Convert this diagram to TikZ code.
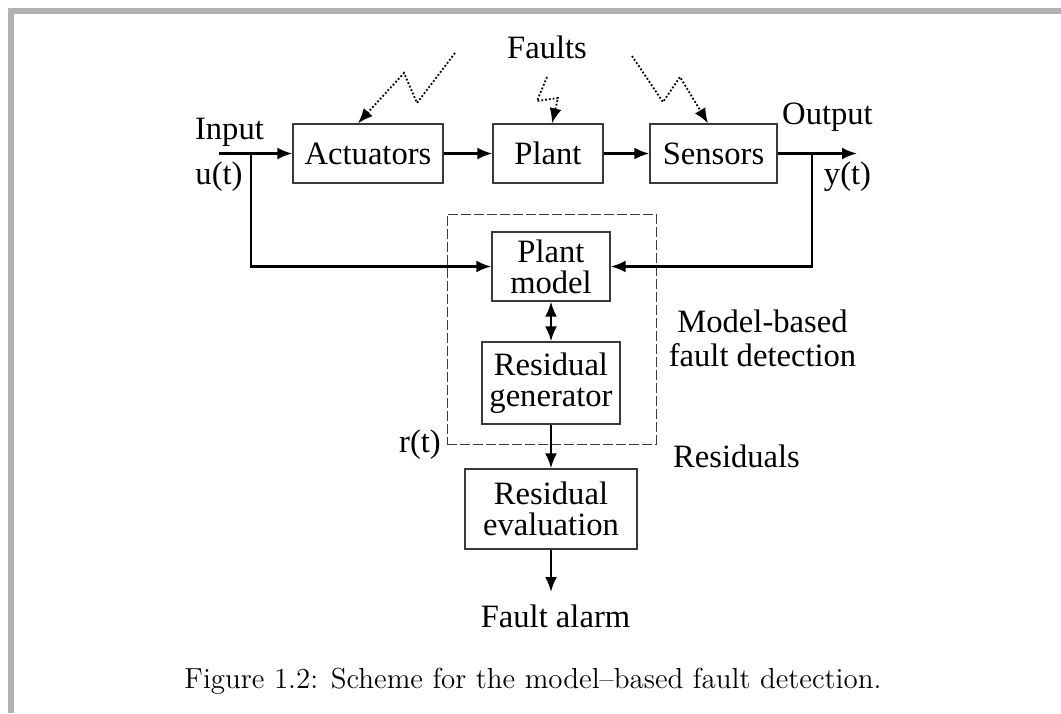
\documentclass[tikz,border=0pt]{standalone}
\usepackage{fontspec}
\newfontfamily\diagfont{Liberation Serif}
\usepackage{xcolor}
\usetikzlibrary{arrows.meta,calc}
\definecolor{framegray}{HTML}{B2B2B2}
\definecolor{boxgray}{HTML}{3A3A3A}
\tikzset{
	block/.style={
			draw=boxgray, line width=0.7pt, inner sep=0pt, align=center,
			font=\diagfont\fontsize{16.3}{15.5}\selectfont
		},
	txt/.style={inner sep=0pt, font=\diagfont\fontsize{16.3}{17}\selectfont},
	detbox/.style={draw=boxgray, line width=0.5pt, dash pattern=on 5pt off 1.5pt, inner sep=0pt},
	sig/.style={line width=1.2pt, -{Latex[length=7.5pt,width=6pt]}},
	dsig/.style={line width=1.2pt, {Latex[length=7.5pt,width=6pt]}-{Latex[length=7.5pt,width=6pt]}},
	fault/.style={densely dotted, line width=0.9pt, -{Latex[length=7.5pt,width=6pt]}}
}

\begin{document}
\begin{tikzpicture}[x=0.5pt, y=-0.5pt]

			\useasboundingbox (0,0) rectangle (1061,713);

			% Draw the page frame
			\fill[framegray] (8,8) rectangle (1061,14);
			\fill[framegray] (8,8) rectangle (13.5,713);

			% Draw the blocks
			\node[block, minimum width=75pt, minimum height=29.5pt] (act) at (368,153.5) {Actuators};
			\node[block, minimum width=55pt, minimum height=29.5pt] (plant) at (548,153.5) {Plant};
			\node[block, minimum width=63.5pt, minimum height=29.5pt] (sens) at (713.5,153.5) {Sensors};
			\node[block, minimum width=59pt, minimum height=34.5pt] (pmodel) at (551,266.5) {Plant\\model};
			\node[block, minimum width=69pt, minimum height=41pt] (rgen) at (551,383) {Residual\\generator};
			\node[block, minimum width=86pt, minimum height=40pt] (reval) at (551,509) {Residual\\evaluation};

			% Draw the dashed frame of the detection part
			\node[detbox, minimum width=104.5pt, minimum height=115pt] (mbfd) at (551.5,329) {};

			% Free ends and branch points
			\coordinate (uin) at (219,153.5);
			\coordinate (ubr) at (251,153.5);
			\coordinate (ybr) at (812,153.5);
			\coordinate (yout) at (857,153.5);
			\coordinate (alarm) at (551,592);

			% Draw the signal lines
			\draw[sig] (uin) -- (act);
			\draw[sig] (act) -- (plant);
			\draw[sig] (plant) -- (sens);
			\draw[sig] (sens) -- (yout);
			\draw[sig] (ubr) |- (pmodel);
			\draw[sig] (ybr) |- (pmodel);
			\draw[dsig] (pmodel) -- (rgen);
			\draw[sig] (rgen) -- (reval);
			\draw[sig] (reval) -- (alarm);

			% Draw the fault arrows
			\draw[fault] (455,53) -- (417,103) -- (404,73) -- ([xshift=-5pt]act.north);
			\draw[fault] (547,77) -- (537,101) -- (558,98) -- ([xshift=2pt]plant.north);
			\draw[fault] (632,56) -- (663,102) -- (680,77) -- ([xshift=-2.75pt]sens.north);

			% Labels
			\node[txt, anchor=base] (faults) at (547,58) {Faults};
			\node[txt, anchor=base] (input) at (229.5,139) {Input};
			\node[txt, anchor=base] (ut) at (219,184) {u(t)};
			\node[txt, anchor=base] (output) at (827.5,124) {Output};
			\node[txt, anchor=base] (yt) at (847.5,184) {y(t)};
			\node[txt, align=center] (mbfdlbl) at (762.5,338) {Model-based\\fault detection};
			\node[txt, anchor=base] (rt) at (420,452) {r(t)};
			\node[txt, anchor=base] (resid) at (736.5,467) {Residuals};
			\node[txt, anchor=base] (falarm) at (555.5,627) {Fault alarm};

			% Caption
			\node[anchor=base, inner sep=0pt, font=\fontsize{14.5}{16}\selectfont] (caption) at (533,688)
			{Figure 1.2: Scheme for the model--based fault detection.};

		\end{tikzpicture}
\end{document}
